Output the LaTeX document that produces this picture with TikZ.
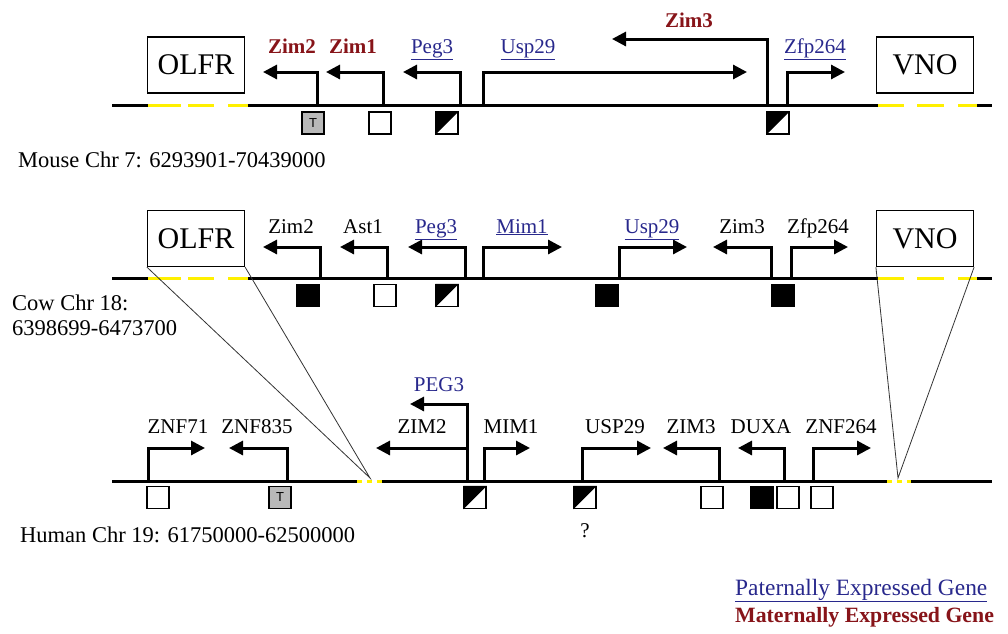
\documentclass[tikz,border=0pt]{standalone}
\usepackage{fontspec}
\setmainfont{Liberation Serif}
\setsansfont{Liberation Sans}
\usetikzlibrary{arrows.meta}
\definecolor{pat}{RGB}{40,40,140}
\definecolor{mat}{RGB}{135,20,25}
\definecolor{ylw}{RGB}{255,240,0}
\definecolor{tgray}{RGB}{185,185,185}
\begin{document}
\begin{tikzpicture}[x=1pt,y=-1pt,
  chrom/.style={line width=3pt},
  yel/.style={draw=ylw, line width=3pt},
  gene/.style={line width=3pt, -{Triangle[length=14pt,width=14pt]}},
  glab/.style={font=\fontsize{21}{24}\selectfont, inner sep=0pt, anchor=base},
  mlab/.style={glab, font=\fontsize{21}{24}\selectfont\bfseries, text=mat},
  plab/.style={glab, text=pat},
  region/.style={draw, line width=1.2pt, minimum width=97pt, minimum height=56pt, inner sep=0pt, font=\fontsize{30}{32}\selectfont},
  chrlab/.style={font=\fontsize{22.5}{24}\selectfont, inner sep=0pt, anchor=base west, align=left},
  sq/.style={draw, line width=1.5pt, minimum size=22pt, inner sep=0pt, fill=white},
  blk/.style={sq, fill=black},
  half/.style={sq},
  tsq/.style={sq, fill=tgray, font=\sffamily\fontsize{13}{14}\selectfont},
  zoomln/.style={line width=0.8pt, draw=black!80}
]
\useasboundingbox (0,0) rectangle (1008,633);

% ================= MOUSE =================
\coordinate (mA) at (112,105); \coordinate (mB) at (148,105);
\coordinate (mC) at (248,105); \coordinate (mD) at (878,105);
\coordinate (mE) at (977,105); \coordinate (mF) at (992,105);
\draw[chrom] (mA) -- (mB);
\draw[chrom] (mC) -- (mD);
\draw[chrom] (mE) -- (mF);
\draw[yel, dash pattern=on 33pt off 7pt on 26pt off 14pt on 21pt off 0pt] (mB) -- (mC);
\draw[yel, dash pattern=on 26pt off 13pt on 27pt off 14pt on 19pt off 0pt] (mD) -- (mE);
\node[region] (mOLFR) at (196,65) {OLFR};
\node[region] (mVNO) at (925,65) {VNO};

\coordinate (mZim2s) at (317,105); \coordinate (mZim2e) at (263,72);
\coordinate (mZim1s) at (383,105); \coordinate (mZim1e) at (326,72);
\coordinate (mPeg3s) at (460,105); \coordinate (mPeg3e) at (403,72);
\coordinate (mUsps) at (483,105); \coordinate (mUspe) at (747,72);
\coordinate (mZim3s) at (767,105); \coordinate (mZim3e) at (612,39);
\coordinate (mZfps) at (787,105); \coordinate (mZfpe) at (845,72);
\draw[gene] (mZim2s) |- (mZim2e);
\draw[gene] (mZim1s) |- (mZim1e);
\draw[gene] (mPeg3s) |- (mPeg3e);
\draw[gene] (mUsps) |- (mUspe);
\draw[gene] (mZim3s) |- (mZim3e);
\draw[gene] (mZfps) |- (mZfpe);
\node[mlab] (mlZim2) at (292,53) {Zim2};
\node[mlab] (mlZim1) at (353,53) {Zim1};
\node[plab] (mlPeg3) at (432,53) {\underline{Peg3}};
\node[plab] (mlUsp) at (528,53) {\underline{Usp29}};
\node[mlab] (mlZim3) at (689,27) {Zim3};
\node[plab] (mlZfp) at (815,53) {\underline{Zfp264}};

\node[tsq] (mb1) at (313,123) {T};
\node[sq] (mb2) at (380,123) {};
\node[half] (mb3) at (447,123) {};
\node[half] (mb4) at (778,123) {};

\node[chrlab] (mchr) at (18,167) {Mouse Chr 7: 6293901-70439000};

% ================= COW =================
\coordinate (cA) at (112,278); \coordinate (cB) at (148,278);
\coordinate (cC) at (248,278); \coordinate (cD) at (878,278);
\coordinate (cE) at (977,278); \coordinate (cF) at (992,278);
\draw[chrom] (cA) -- (cB);
\draw[chrom] (cC) -- (cD);
\draw[chrom] (cE) -- (cF);
\draw[yel, dash pattern=on 33pt off 7pt on 26pt off 14pt on 21pt off 0pt] (cB) -- (cC);
\draw[yel, dash pattern=on 26pt off 13pt on 27pt off 14pt on 19pt off 0pt] (cD) -- (cE);
\node[region] (cOLFR) at (196,238.5) {OLFR};
\node[region] (cVNO) at (925,238.5) {VNO};

\coordinate (cZim2s) at (320,278); \coordinate (cZim2e) at (263,247);
\coordinate (cAsts) at (387,278); \coordinate (cAste) at (340,247);
\coordinate (cPeg3s) at (465,278); \coordinate (cPeg3e) at (408,247);
\coordinate (cMims) at (483,278); \coordinate (cMime) at (562,247);
\coordinate (cUsps) at (619,278); \coordinate (cUspe) at (687,247);
\coordinate (cZim3s) at (771,278); \coordinate (cZim3e) at (713,247);
\coordinate (cZfps) at (791,278); \coordinate (cZfpe) at (848,247);
\draw[gene] (cZim2s) |- (cZim2e);
\draw[gene] (cAsts) |- (cAste);
\draw[gene] (cPeg3s) |- (cPeg3e);
\draw[gene] (cMims) |- (cMime);
\draw[gene] (cUsps) |- (cUspe);
\draw[gene] (cZim3s) |- (cZim3e);
\draw[gene] (cZfps) |- (cZfpe);
\node[glab] (clZim2) at (291,233) {Zim2};
\node[glab] (clAst) at (363,233) {Ast1};
\node[plab] (clPeg3) at (436,233) {\underline{Peg3}};
\node[plab] (clMim) at (522,233) {\underline{Mim1}};
\node[plab] (clUsp) at (652,233) {\underline{Usp29}};
\node[glab] (clZim3) at (742,233) {Zim3};
\node[glab] (clZfp) at (818,233) {Zfp264};

\node[blk] (cb1) at (308,295.5) {};
\node[sq] (cb2) at (385,295.5) {};
\node[half] (cb3) at (447,295.5) {};
\node[blk] (cb4) at (607,295.5) {};
\node[blk] (cb5) at (783,295.5) {};

\node[chrlab] (cchr1) at (12,310) {Cow Chr 18:};
\node[chrlab] (cchr2) at (12,335) {6398699-6473700};

% ================= HUMAN =================
\coordinate (hA) at (112,481); \coordinate (hB) at (357,481);
\coordinate (hC) at (382,481); \coordinate (hD) at (887,481);
\coordinate (hE) at (911,481); \coordinate (hF) at (992,481);
\draw[chrom] (hA) -- (hB);
\draw[chrom] (hC) -- (hF);
\draw[yel, dash pattern=on 5pt off 5pt] (hB) -- (hC);
\draw[draw=white, line width=3.2pt] (hD) -- (hE);
\draw[yel, dash pattern=on 5pt off 5pt] (hD) -- (hE);

\coordinate (hL) at (370,478);
\coordinate (hR) at (898,478);
\draw[zoomln] (cOLFR.south west) -- (hL) -- (cOLFR.south east);
\draw[zoomln] (cVNO.south west) -- (hR) -- (cVNO.south east);

\coordinate (hZnf71s) at (148,481); \coordinate (hZnf71e) at (205,448);
\coordinate (hZnf835s) at (287,481); \coordinate (hZnf835e) at (229,448);
\coordinate (hPegs) at (467,481); \coordinate (hPege) at (410,404);
\coordinate (hZim2s) at (467,448); \coordinate (hZim2e) at (376,448);
\coordinate (hMims) at (484,481); \coordinate (hMime) at (530,448);
\coordinate (hUsps) at (582,481); \coordinate (hUspe) at (651,448);
\coordinate (hZim3s) at (719,481); \coordinate (hZim3e) at (663,448);
\coordinate (hDuxs) at (784,481); \coordinate (hDuxe) at (738,448);
\coordinate (hZnf264s) at (813,481); \coordinate (hZnf264e) at (871,448);
\draw[gene] (hZnf71s) |- (hZnf71e);
\draw[gene] (hZnf835s) |- (hZnf835e);
\draw[gene] (hPegs) |- (hPege);
\draw[gene] (hZim2s) -- (hZim2e);
\draw[gene] (hMims) |- (hMime);
\draw[gene] (hUsps) |- (hUspe);
\draw[gene] (hZim3s) |- (hZim3e);
\draw[gene] (hDuxs) |- (hDuxe);
\draw[gene] (hZnf264s) |- (hZnf264e);
\node[glab] (hlZnf71) at (178,433) {ZNF71};
\node[glab] (hlZnf835) at (257,433) {ZNF835};
\node[plab] (hlPeg) at (439,391) {PEG3};
\node[glab] (hlZim2) at (422,433) {ZIM2};
\node[glab] (hlMim) at (511,433) {MIM1};
\node[glab] (hlUsp) at (615,433) {USP29};
\node[glab] (hlZim3) at (691,433) {ZIM3};
\node[glab] (hlDux) at (761,433) {DUXA};
\node[glab] (hlZnf264) at (841,433) {ZNF264};

\node[sq] (hb1) at (158,497.5) {};
\node[tsq] (hb2) at (280,497.5) {T};
\node[half] (hb3) at (475,497.5) {};
\node[half] (hb4) at (585,497.5) {};
\node[sq] (hb5) at (712,497.5) {};
\node[blk] (hb6) at (762,497.5) {};
\node[sq] (hb7) at (788,497.5) {};
\node[sq] (hb8) at (822,497.5) {};
\node[glab] (hq) at (585,537) {?};

% black upper-left halves of the half-filled squares
\foreach \n in {mb3,mb4,cb3,hb3,hb4}
  \fill (\n.north west) -- (\n.north east) -- (\n.south west) -- cycle;

\node[chrlab] (hchr) at (20,542) {Human Chr 19: 61750000-62500000};

% ================= LEGEND =================
\node[chrlab, text=pat, font=\fontsize{23.4}{24}\selectfont] (legp) at (735,595) {\underline{Paternally Expressed Gene}};
\node[chrlab, text=mat, font=\fontsize{21.8}{24}\selectfont\bfseries] (legm) at (735,622) {Maternally Expressed Gene};
\end{tikzpicture}
\end{document}
